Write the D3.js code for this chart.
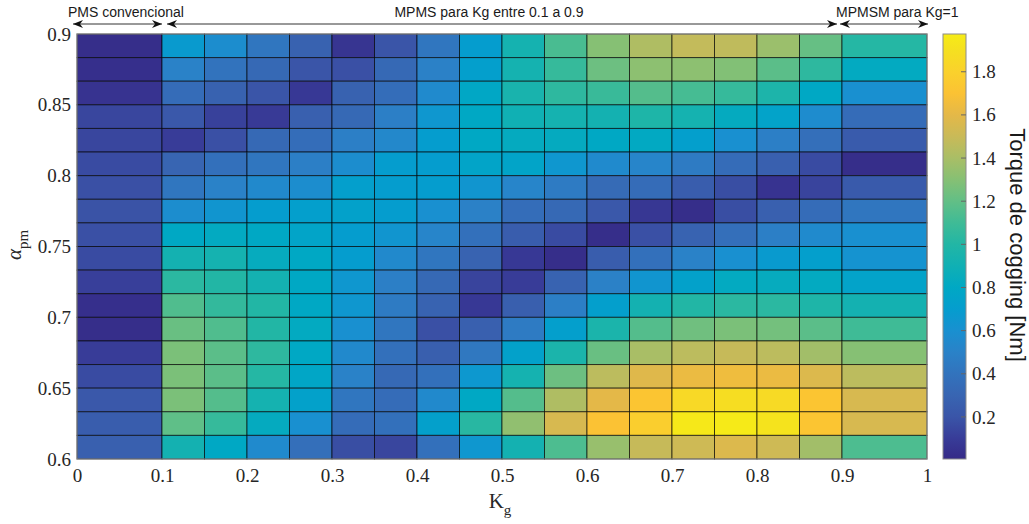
<!DOCTYPE html>
<html>
<head>
<meta charset="utf-8">
<script src="https://cdn.jsdelivr.net/npm/d3@7"></script>
<style>
  body { margin: 0; background: #fff; }
  svg { display: block; }
</style>
</head>
<body>
<div id="chart"></div>
<script>
var width = 1029;
var height = 524;

// column edges along Kg (first and last column are 0.1 wide, the rest 0.05)
var kgEdges = [0, 0.1, 0.15, 0.2, 0.25, 0.3, 0.35, 0.4, 0.45, 0.5, 0.55,
               0.6, 0.65, 0.7, 0.75, 0.8, 0.85, 0.9, 1];
// row edges along alpha_pm, top to bottom
var alphaEdges = [0.9, 0.88333, 0.86667, 0.85, 0.83333, 0.81667, 0.8, 0.78333, 0.76667, 0.75,
                  0.73333, 0.71667, 0.7, 0.68333, 0.66667, 0.65, 0.63333, 0.61667, 0.6];

// cogging torque [Nm], one row per alpha band (top row first), one value per Kg column
var torque = [
  [0.02, 0.68, 0.58, 0.42, 0.28, 0.06, 0.20, 0.42, 0.70, 0.93, 1.13, 1.30, 1.42, 1.48, 1.47, 1.36, 1.21, 1.01],
  [0.03, 0.50, 0.40, 0.33, 0.20, 0.18, 0.33, 0.49, 0.72, 0.93, 1.07, 1.23, 1.32, 1.32, 1.29, 1.18, 1.04, 0.82],
  [0.05, 0.35, 0.28, 0.20, 0.08, 0.28, 0.36, 0.56, 0.79, 0.95, 1.04, 1.08, 1.16, 1.12, 1.07, 0.97, 0.80, 0.60],
  [0.14, 0.22, 0.12, 0.09, 0.27, 0.33, 0.48, 0.65, 0.80, 0.90, 0.93, 0.92, 0.98, 0.93, 0.83, 0.75, 0.57, 0.35],
  [0.14, 0.10, 0.18, 0.33, 0.36, 0.48, 0.54, 0.70, 0.80, 0.83, 0.83, 0.80, 0.81, 0.72, 0.60, 0.48, 0.37, 0.24],
  [0.16, 0.30, 0.38, 0.42, 0.48, 0.58, 0.70, 0.70, 0.76, 0.76, 0.65, 0.56, 0.52, 0.45, 0.35, 0.27, 0.16, 0.02],
  [0.18, 0.42, 0.50, 0.55, 0.58, 0.72, 0.70, 0.70, 0.64, 0.52, 0.45, 0.34, 0.35, 0.25, 0.17, 0.05, 0.13, 0.23],
  [0.19, 0.58, 0.64, 0.70, 0.72, 0.74, 0.70, 0.60, 0.49, 0.36, 0.33, 0.22, 0.07, 0.02, 0.17, 0.27, 0.35, 0.42],
  [0.18, 0.80, 0.82, 0.80, 0.76, 0.70, 0.64, 0.52, 0.38, 0.25, 0.16, 0.02, 0.18, 0.29, 0.37, 0.48, 0.56, 0.60],
  [0.16, 0.92, 0.93, 0.84, 0.80, 0.70, 0.55, 0.42, 0.29, 0.08, 0.02, 0.25, 0.38, 0.50, 0.60, 0.68, 0.72, 0.62],
  [0.11, 1.03, 1.00, 0.92, 0.80, 0.65, 0.48, 0.33, 0.13, 0.10, 0.29, 0.49, 0.64, 0.74, 0.82, 0.84, 0.82, 0.75],
  [0.03, 1.15, 1.06, 1.00, 0.80, 0.65, 0.45, 0.29, 0.08, 0.26, 0.48, 0.72, 0.92, 1.00, 1.03, 1.03, 0.98, 0.92],
  [0.02, 1.22, 1.15, 1.00, 0.82, 0.60, 0.42, 0.18, 0.27, 0.45, 0.72, 0.96, 1.16, 1.24, 1.27, 1.25, 1.18, 1.10],
  [0.10, 1.27, 1.18, 1.04, 0.80, 0.55, 0.38, 0.26, 0.43, 0.74, 0.96, 1.22, 1.40, 1.46, 1.49, 1.46, 1.38, 1.30],
  [0.16, 1.27, 1.18, 1.01, 0.78, 0.50, 0.33, 0.38, 0.66, 0.93, 1.23, 1.46, 1.58, 1.63, 1.65, 1.63, 1.57, 1.46],
  [0.22, 1.27, 1.16, 0.93, 0.74, 0.42, 0.35, 0.55, 0.80, 1.16, 1.42, 1.60, 1.72, 1.85, 1.88, 1.86, 1.72, 1.55],
  [0.25, 1.19, 1.07, 0.83, 0.60, 0.35, 0.38, 0.73, 1.02, 1.33, 1.55, 1.70, 1.78, 1.95, 1.96, 1.92, 1.72, 1.55],
  [0.27, 0.92, 0.80, 0.56, 0.37, 0.17, 0.14, 0.38, 0.65, 0.92, 1.14, 1.35, 1.49, 1.52, 1.57, 1.52, 1.38, 1.14]
];

var xTicks = [0, 0.1, 0.2, 0.3, 0.4, 0.5, 0.6, 0.7, 0.8, 0.9, 1];
var yTicks = [0.6, 0.65, 0.7, 0.75, 0.8, 0.85, 0.9];
var cbTicks = [0.2, 0.4, 0.6, 0.8, 1, 1.2, 1.4, 1.6, 1.8];
var cbRange = [0.005, 1.975];

// parula-like colormap, as it looks in the picture
var mapValues = [0, 0.1, 0.2, 0.3, 0.4, 0.5, 0.6, 0.7, 0.8, 0.9, 1.0,
                 1.1, 1.2, 1.3, 1.4, 1.5, 1.6, 1.7, 1.8, 1.9, 1.975];
var mapColors = ["#352a87", "#383c98", "#3a55a8", "#3865b2", "#3273bd", "#2a82c8", "#1990d0",
                 "#059dce", "#00a8c4", "#10b0b4", "#22b6a5", "#3fbb96", "#62bf86", "#86c074",
                 "#a9be66", "#c9ba58", "#e4b848", "#fbc234", "#fad12c", "#f5e020", "#f6ec16"];

var serif = "'Liberation Serif', 'Times New Roman', serif";
var sans = "'Liberation Sans', Arial, sans-serif";

var svg = d3.select("#chart")
    .append("svg")
        .attr("width", width)
        .attr("height", height)
        ;

var x = d3.scaleLinear().domain([0, 1]).range([77, 927]);
var y = d3.scaleLinear().domain([0.6, 0.9]).range([459, 34]);
var color = d3.scaleLinear().domain(mapValues).range(mapColors).clamp(true);

// cells
var cells = [];
for (var r = 0; r < torque.length; r++) {
    for (var c = 0; c < torque[r].length; c++) {
        cells.push({
            x0: kgEdges[c], x1: kgEdges[c + 1],
            y0: alphaEdges[r], y1: alphaEdges[r + 1],
            v: torque[r][c]
        });
    }
}

svg.append("g")
    .selectAll("rect")
    .data(cells)
    .enter().append("rect")
        .attr("x", function(d) { return x(d.x0); })
        .attr("y", function(d) { return y(d.y0); })
        .attr("width", function(d) { return x(d.x1) - x(d.x0); })
        .attr("height", function(d) { return y(d.y1) - y(d.y0); })
        .attr("fill", function(d) { return color(d.v); })
        .attr("stroke", "#000")
        .attr("stroke-opacity", 0.65)
        .attr("stroke-width", 1)
        ;

// axes box
svg.append("rect")
    .attr("x", x(0)).attr("y", y(0.9))
    .attr("width", x(1) - x(0)).attr("height", y(0.6) - y(0.9))
    .attr("fill", "none")
    .attr("stroke", "#8c8c8c")
    .attr("stroke-width", 1)
    ;

var xAxis = d3.axisBottom(x).tickValues(xTicks).tickSize(0).tickPadding(10)
    .tickFormat(function(d) { return d3.format("")(d); });
var gx = svg.append("g").attr("transform", "translate(0," + y(0.6) + ")").call(xAxis);
gx.select(".domain").remove();
gx.selectAll("text").attr("font-family", serif).attr("font-size", 19).attr("fill", "#262626");

var yAxis = d3.axisLeft(y).tickValues(yTicks).tickSize(0).tickPadding(6)
    .tickFormat(function(d) { return d3.format("")(d); });
var gy = svg.append("g").attr("transform", "translate(" + x(0) + ",0)").call(yAxis);
gy.select(".domain").remove();
gy.selectAll("text").attr("font-family", serif).attr("font-size", 19).attr("fill", "#262626");

// axis titles
var xt = svg.append("text")
    .attr("x", 500).attr("y", 508)
    .attr("text-anchor", "middle")
    .attr("font-family", serif).attr("font-size", 21).attr("fill", "#262626");
xt.append("tspan").text("K");
xt.append("tspan").attr("font-size", 15).attr("dy", 7).text("g");

var yt = svg.append("text")
    .attr("transform", "translate(21,245) rotate(-90)")
    .attr("text-anchor", "middle")
    .attr("font-family", serif).attr("font-size", 21).attr("fill", "#262626");
yt.append("tspan").attr("font-style", "italic").text("α");
yt.append("tspan").attr("font-size", 15).attr("dy", 7).text("pm");

// colorbar
var cb = d3.scaleLinear().domain(cbRange).range([459, 34]);
var defs = svg.append("defs");
var grad = defs.append("linearGradient")
    .attr("id", "cbgrad")
    .attr("x1", 0).attr("y1", 1).attr("x2", 0).attr("y2", 0);
grad.selectAll("stop")
    .data(mapValues)
    .enter().append("stop")
        .attr("offset", function(d) { return Math.max(0, Math.min(1, (d - cbRange[0]) / (cbRange[1] - cbRange[0]))); })
        .attr("stop-color", function(d, i) { return mapColors[i]; })
        ;

svg.append("rect")
    .attr("x", 943).attr("y", cb(cbRange[1]))
    .attr("width", 23).attr("height", cb(cbRange[0]) - cb(cbRange[1]))
    .attr("fill", "url(#cbgrad)")
    .attr("stroke", "#8c8c8c")
    .attr("stroke-width", 1)
    ;

var cbAxis = d3.axisRight(cb).tickValues(cbTicks).tickSize(0).tickPadding(0)
    .tickFormat(function(d) { return d3.format("")(d); });
var gc = svg.append("g").attr("transform", "translate(972,0)").call(cbAxis);
gc.select(".domain").remove();
gc.selectAll("text").attr("font-family", serif).attr("font-size", 19).attr("fill", "#262626");

svg.append("g")
    .selectAll("line")
    .data(cbTicks)
    .enter().append("line")
        .attr("x1", 961).attr("x2", 966)
        .attr("y1", function(d) { return cb(d); })
        .attr("y2", function(d) { return cb(d); })
        .attr("stroke", "#666")
        ;

svg.append("text")
    .attr("transform", "translate(1010,245) rotate(90)")
    .attr("text-anchor", "middle")
    .attr("font-family", sans).attr("font-size", 22).attr("fill", "#1a1a1a")
    .text("Torque de cogging [Nm]");

// top annotations with double arrows
defs.append("marker")
    .attr("id", "head")
    .attr("viewBox", "0 0 10 8")
    .attr("refX", 10).attr("refY", 4)
    .attr("markerWidth", 10).attr("markerHeight", 8)
    .attr("markerUnits", "userSpaceOnUse")
    .attr("orient", "auto-start-reverse")
    .append("path")
        .attr("d", "M0,0 L10,4 L0,8 L3,4 z")
        .attr("fill", "#111");

var spans = [
    { a: 73, b: 162, label: "PMS convencional", tx: 68, anchor: "start" },
    { a: 167, b: 837, label: "MPMS para Kg entre 0.1 a 0.9", tx: 489, anchor: "middle" },
    { a: 840, b: 928, label: "MPMSM para Kg=1", tx: 836, anchor: "start" }
];

svg.append("g")
    .selectAll("line")
    .data(spans)
    .enter().append("line")
        .attr("x1", function(d) { return d.a; })
        .attr("x2", function(d) { return d.b; })
        .attr("y1", 24).attr("y2", 24)
        .attr("stroke", "#333")
        .attr("stroke-width", 1)
        .attr("marker-start", "url(#head)")
        .attr("marker-end", "url(#head)")
        ;

svg.append("g")
    .selectAll("text")
    .data(spans)
    .enter().append("text")
        .attr("x", function(d) { return d.tx; })
        .attr("y", 17)
        .attr("text-anchor", function(d) { return d.anchor; })
        .attr("font-family", sans).attr("font-size", 14).attr("fill", "#1a1a1a")
        .text(function(d) { return d.label; })
        ;
</script>
</body>
</html>
